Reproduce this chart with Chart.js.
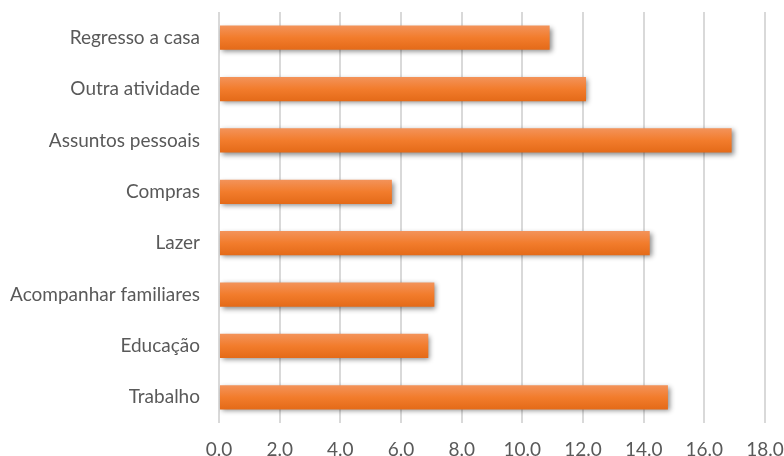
<!DOCTYPE html>
<html>
<head>
<meta charset="utf-8">
<script src="https://cdn.jsdelivr.net/npm/chart.js@4/dist/chart.umd.min.js"></script>
<style>
  html, body { margin: 0; padding: 0; background: #fff; }
  #wrap { width: 784px; height: 456px; }
</style>
</head>
<body>
<div id="wrap"><canvas id="motivos-chart"></canvas></div>
<script>
const categories = ["Regresso a casa", "Outra atividade", "Assuntos pessoais", "Compras",
                    "Lazer", "Acompanhar familiares", "Educação", "Trabalho"];
const values = [10.9, 12.1, 16.9, 5.7, 14.2, 7.1, 6.9, 14.8];
const tickValues = [0, 2, 4, 6, 8, 10, 12, 14, 16, 18];

// gradient + shadow per bar, like the office chart style
const barStyle = {
    id: "barStyle",
    beforeDatasetsDraw(chart) {
        const ctx = chart.ctx;
        chart.getDatasetMeta(0).data.forEach(bar => {
            const top = bar.y - bar.height / 2;
            const g = ctx.createLinearGradient(0, top, 0, top + bar.height);
            g.addColorStop(0, "#F3935A");
            g.addColorStop(0.5, "#F27C2C");
            g.addColorStop(1, "#E46A18");
            bar.options.backgroundColor = g;
        });
        ctx.save();
        ctx.shadowColor = "rgba(0,0,0,0.45)";
        ctx.shadowBlur = 5;
        ctx.shadowOffsetX = 2;
        ctx.shadowOffsetY = 2;
    },
    afterDatasetsDraw(chart) {
        chart.ctx.restore();
    }
};

function drawChart() {
    const ctx = document.getElementById("motivos-chart").getContext("2d");

    new Chart(ctx, {
        type: "bar",
        data: {
            labels: categories,
            datasets: [{
                data: values,
                backgroundColor: () => "#F27C2C",
                borderWidth: 0,
                barPercentage: 0.47,
                categoryPercentage: 1
            }]
        },
        options: {
            indexAxis: "y",
            responsive: true,
            maintainAspectRatio: false,
            animation: false,
            layout: { padding: { top: 12, right: 0, bottom: 0, left: 0 } },
            plugins: { legend: { display: false }, tooltip: { enabled: false } },
            scales: {
                x: {
                    min: 0,
                    max: 18,
                    afterBuildTicks: axis => { axis.ticks = tickValues.map(v => ({ value: v })); },
                    ticks: {
                        callback: v => Number(v).toFixed(1),
                        color: "#595959",
                        font: { family: "Lato", size: 19 },
                        padding: 15
                    },
                    grid: { color: "#d9d9d9", lineWidth: 2, drawTicks: false },
                    border: { display: false },
                    afterFit: axis => { axis.height = 33; axis.paddingRight = 19; }
                },
                y: {
                    ticks: {
                        color: "#595959",
                        font: { family: "Lato", size: 19 },
                        padding: 11
                    },
                    grid: { display: false },
                    border: { display: false },
                    afterFit: axis => { axis.width = 219; axis.paddingTop = 0; axis.paddingBottom = 0; }
                }
            }
        },
        plugins: [barStyle]
    });
}

drawChart();
</script>
</body>
</html>
